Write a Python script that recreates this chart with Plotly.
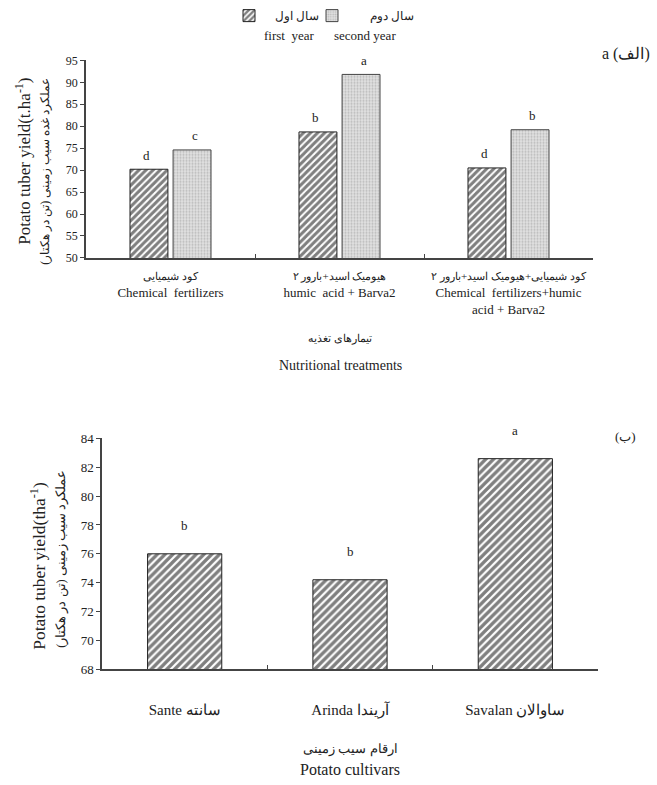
import plotly.graph_objects as go

# ---------- data ----------
treatments_fa = ["کود شیمیایی", "هیومیک اسید+بارور ۲", "کود شیمیایی+هیومیک اسید+بارور ۲"]
treatments_en = ["Chemical  fertilizers", "humic  acid + Barva2", "Chemical  fertilizers+humic<br>acid + Barva2"]
first_year = [70.2, 78.7, 70.5]
second_year = [74.6, 91.8, 79.2]
first_letters = ["d", "b", "d"]
second_letters = ["c", "a", "b"]

cultivars_en = ["Sante", "Arinda", "Savalan"]
cultivars_fa = ["سانته", "آریندا", "ساوالان"]
cultivar_yield = [76.0, 74.2, 82.6]
cultivar_letters = ["b", "b", "a"]

top_yticks = [50, 55, 60, 65, 70, 75, 80, 85, 90, 95]
bot_yticks = [68, 70, 72, 74, 76, 78, 80, 82, 84]

FONT = "Liberation Serif"
AX = "#444"
TXT = "#222"
NB = "\u00a0"
LRM = "\u200e"

cats = ["t1", "t2", "t3"]
ccats = ["c1", "c2", "c3"]


def PY(t):
    """screen pixel row -> paper fraction (compensates the viewer's vertical fit)"""
    return 1 - ((t - 7.8) / 0.978) / 785


def PX(t):
    return t / 657


fig = go.Figure()

fig.add_trace(go.Bar(
    x=cats, y=first_year, name=LRM + NB * 2 + "سال اول", xaxis="x", yaxis="y", legend="legend",
    marker=dict(color="white", line=dict(color="#222", width=1),
                pattern=dict(shape="/", size=5, solidity=0.6, fgcolor="#000", bgcolor="white")),
))
fig.add_trace(go.Bar(
    x=cats, y=second_year, name=LRM + NB * 6 + "سال دوم", xaxis="x", yaxis="y", legend="legend2",
    marker=dict(color="#d0d0d0", line=dict(color="#444", width=1),
                pattern=dict(shape=".", size=3, solidity=0.4, fgcolor="#909090", bgcolor="#e2e2e2")),
))
fig.add_trace(go.Bar(
    x=ccats, y=cultivar_yield, showlegend=False, xaxis="x2", yaxis="y2",
    marker=dict(color="white", line=dict(color="#222", width=1),
                pattern=dict(shape="/", size=5.5, solidity=0.6, fgcolor="#000", bgcolor="white")),
))

top_ticktext = [f"<span style='font-size:11px'>{fa}</span><br>{en}" for fa, en in zip(treatments_fa, treatments_en)]
bot_ticktext = [f"{en} {fa}" for en, fa in zip(cultivars_en, cultivars_fa)]

annotations = []
for c, v, t in zip(cats, first_year, first_letters):
    annotations.append(dict(x=c, y=v, xref="x", yref="y", text=t, showarrow=False,
                            xanchor="center", yanchor="middle",
                            xshift=-24, yshift=14, font=dict(size=13, family=FONT, color=TXT)))
for c, v, t in zip(cats, second_year, second_letters):
    annotations.append(dict(x=c, y=v, xref="x", yref="y", text=t, showarrow=False,
                            xanchor="center", yanchor="middle",
                            xshift=24, yshift=14, font=dict(size=13, family=FONT, color=TXT)))
for c, v, t in zip(ccats, cultivar_yield, cultivar_letters):
    annotations.append(dict(x=c, y=v, xref="x2", yref="y2", text=t, showarrow=False,
                            xanchor="center", yanchor="middle",
                            yshift=28, font=dict(size=13, family=FONT, color=TXT)))


def note(px, py, text, size, angle=0, family=FONT):
    return dict(xref="paper", yref="paper", x=PX(px), y=PY(py), text=text,
                textangle=angle, xanchor="center", yanchor="middle",
                showarrow=False, font=dict(size=size, family=family, color=TXT))


annotations += [
    note(23, 162, "Potato tuber yield(t.ha<sup>-1</sup>)", 17, -90),
    note(45, 172, "عملکرد غده سیب زمینی (تن در هکتار)", 12, -90),
    note(38, 565, "Potato tuber yield(tha<sup>-1</sup>)", 17.5, -90),
    note(62, 558, "عملکرد سیب زمینی (تن در هکتار)", 12.5, -90),
    note(340, 338, "تیمارهای تغذیه", 11),
    note(340, 365, "Nutritional treatments", 14),
    note(350, 748, "ارقام سیب زمینی", 13),
    note(350, 768, "Potato cultivars", 16),
    note(626, 55, "a (الف)", 16),
    note(625, 436, "(ب)", 13),
    note(289, 36, "first  year", 13),
    note(365, 36, "second year", 13),
]

fig.update_layout(
    width=657, height=785,
    margin=dict(l=0, r=0, t=0, b=0),
    paper_bgcolor="white", plot_bgcolor="white",
    font=dict(family=FONT, size=12, color=TXT),
    barmode="group", bargap=0.49, bargroupgap=0.12,
    showlegend=True,
    legend=dict(orientation="h", x=229/657, y=1.0 + 6/785, xanchor="left", yanchor="top",
                font=dict(size=12, family=FONT), bgcolor="rgba(0,0,0,0)"),
    legend2=dict(orientation="h", x=312/657, y=1.0 + 6/785, xanchor="left", yanchor="top",
                 font=dict(size=12, family=FONT), bgcolor="rgba(0,0,0,0)"),
    xaxis=dict(domain=[PX(86), PX(593)], anchor="y", categoryorder="array", categoryarray=cats,
               tickmode="array", tickvals=cats, ticktext=top_ticktext, tickson="boundaries",
               ticks="inside", ticklen=4, tickcolor=AX, showline=True, linecolor=AX, linewidth=1.5,
               showgrid=False, tickfont=dict(size=13, family=FONT, color=TXT),
               ticklabelstandoff=5),
    yaxis=dict(domain=[PY(258), PY(61)], anchor="x", range=[50, 95],
               tickvals=top_yticks, ticks="outside", ticklen=4, tickcolor=AX, showline=True,
               linecolor=AX, linewidth=1.5, showgrid=False, zeroline=False,
               tickfont=dict(size=12, family=FONT, color=TXT)),
    xaxis2=dict(domain=[PX(102), PX(598)], anchor="y2", categoryorder="array", categoryarray=ccats,
                tickmode="array", tickvals=ccats, ticktext=bot_ticktext, tickson="boundaries",
                ticks="inside", ticklen=4, tickcolor=AX, showline=True, linecolor=AX, linewidth=1.5,
                showgrid=False, tickfont=dict(size=15, family=FONT, color=TXT),
                ticklabelstandoff=26),
    yaxis2=dict(domain=[PY(668), PY(438)], anchor="x2", range=[68, 84],
                tickvals=bot_yticks, ticks="outside", ticklen=4, tickcolor=AX, showline=True,
                linecolor=AX, linewidth=1.5, showgrid=False, zeroline=False,
                tickfont=dict(size=13, family=FONT, color=TXT)),
    annotations=annotations,
)

css_js = (
    "var s=document.createElement('style');"
    "s.textContent='html,body{margin:0;padding:0;overflow:hidden;}';"
    "document.head.appendChild(s);"
)
fig.write_html("out.html", config={"displayModeBar": False}, post_script=css_js)
